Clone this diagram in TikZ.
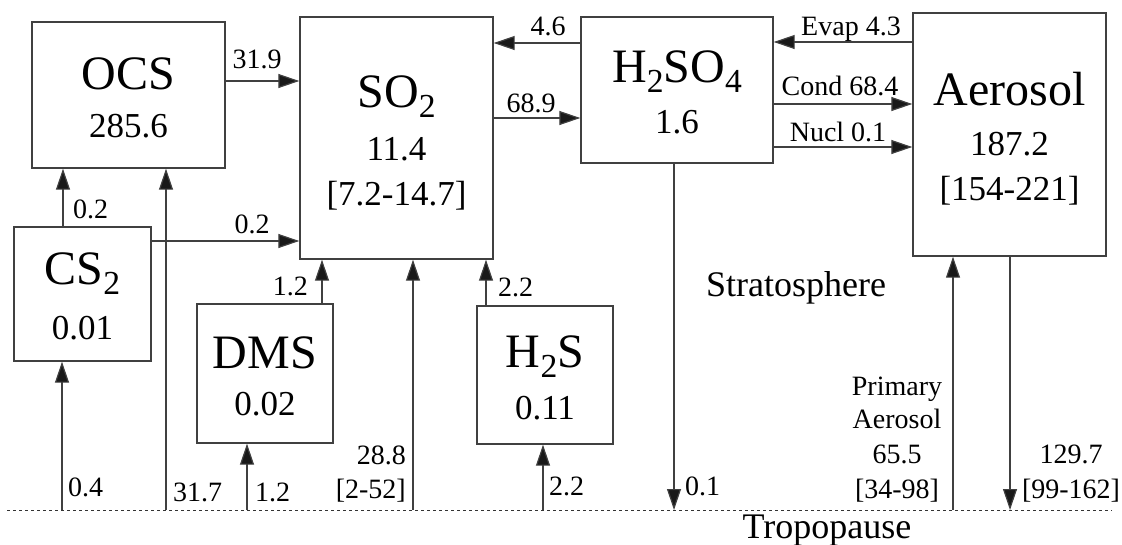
\documentclass[tikz,border=0pt]{standalone}
\usepackage{fontspec}
\setmainfont{Liberation Serif}
\usetikzlibrary{arrows.meta}
\newcommand\chemsub[1]{\raisebox{-0.22em}{\scalebox{0.7}{#1}}}
\newcommand\ftitle{\fontsize{48}{50}\selectfont}
\newcommand\fnum{\fontsize{35}{38}\selectfont}
\newcommand\flab{\fontsize{28}{30}\selectfont}
\newcommand\fbig{\fontsize{36}{38}\selectfont}
\begin{document}
\begin{tikzpicture}[x=1pt,y=-1pt,
  boxnode/.style={draw=black!75,line width=1.4pt,inner sep=0pt,rectangle},
  arr/.style={draw=black!75,line width=1.2pt,-{Triangle[length=21pt,width=14pt,fill=black!90]}},
  trop/.style={draw=black!80,line width=0.9pt,dash pattern=on 3pt off 3pt},
  txt/.style={inner sep=0pt,anchor=base},
  txtw/.style={inner sep=0pt,anchor=base west},
  txte/.style={inner sep=0pt,anchor=base east}]
\useasboundingbox (0,0) rectangle (1122,544);

% boxes
\node[boxnode,minimum width=193pt,minimum height=146pt] (ocs) at (128.5,95) {};
\node[boxnode,minimum width=193pt,minimum height=242pt] (so2) at (396.5,138) {};
\node[boxnode,minimum width=192pt,minimum height=146pt] (h2so4) at (677,90) {};
\node[boxnode,minimum width=193pt,minimum height=243pt] (aer) at (1009.5,134.5) {};
\node[boxnode,minimum width=137pt,minimum height=134pt] (cs2) at (82.5,294) {};
\node[boxnode,minimum width=136pt,minimum height=139pt] (dms) at (265,373.5) {};
\node[boxnode,minimum width=136pt,minimum height=138pt] (h2s) at (545,375) {};

% box texts
\node[txt] (ocsT) at (128.5,89) {\ftitle OCS};
\node[txt] (ocsN) at (128.5,137) {\fnum 285.6};
\node[txt] (so2T) at (396.5,107) {\ftitle SO\chemsub{2}};
\node[txt] (so2N) at (396.5,160) {\fnum 11.4};
\node[txt] (so2R) at (396.5,205) {\fnum [7.2-14.7]};
\node[txt] (h2so4T) at (677,82) {\ftitle H\chemsub{2}SO\chemsub{4}};
\node[txt] (h2so4N) at (677,133) {\fnum 1.6};
\node[txt] (aerT) at (1009.5,105) {\ftitle Aerosol};
\node[txt] (aerN) at (1009.5,155) {\fnum 187.2};
\node[txt] (aerR) at (1009.5,200) {\fnum [154-221]};
\node[txt] (cs2T) at (82.5,284) {\ftitle CS\chemsub{2}};
\node[txt] (cs2N) at (82.5,339) {\fnum 0.01};
\node[txt] (dmsT) at (265,368) {\ftitle DMS};
\node[txt] (dmsN) at (265,415) {\fnum 0.02};
\node[txt] (h2sT) at (545,367) {\ftitle H\chemsub{2}S};
\node[txt] (h2sN) at (545,419) {\fnum 0.11};

% tropopause
\coordinate (tl) at (7,510);
\coordinate (tr) at (1112,510);
\draw[trop] (tl) -- (tr);
\coordinate (t1) at (62,510);
\coordinate (t2) at (166,510);
\coordinate (t3) at (247,510);
\coordinate (t4) at (413,510);
\coordinate (t5) at (543,510);
\coordinate (t6) at (674,510);
\coordinate (t7) at (953,510);
\coordinate (t8) at (1010,510);

% helper levels
\coordinate (xa) at (63,0);
\coordinate (xb) at (322,0);
\coordinate (xc) at (486,0);
\coordinate (ya) at (0,81);
\coordinate (yb) at (0,241);
\coordinate (yc) at (0,43);
\coordinate (yd) at (0,118);
\coordinate (ye) at (0,42);
\coordinate (yf) at (0,104);
\coordinate (yg) at (0,147);

% vertical arrows from tropopause
\draw[arr] (t1) -- (t1 |- cs2.south);
\draw[arr] (t2) -- (t2 |- ocs.south);
\draw[arr] (t3) -- (t3 |- dms.south);
\draw[arr] (t4) -- (t4 |- so2.south);
\draw[arr] (t5) -- (t5 |- h2s.south);
\draw[arr] (t6 |- h2so4.south) -- (t6);
\draw[arr] (t7) -- (t7 |- aer.south);
\draw[arr] (t8 |- aer.south) -- (t8);

% vertical arrows between boxes
\draw[arr] (xa |- cs2.north) -- (xa |- ocs.south);
\draw[arr] (xb |- dms.north) -- (xb |- so2.south);
\draw[arr] (xc |- h2s.north) -- (xc |- so2.south);

% horizontal arrows
\draw[arr] (ocs.east |- ya) -- (so2.west |- ya);
\draw[arr] (cs2.east |- yb) -- (so2.west |- yb);
\draw[arr] (h2so4.west |- yc) -- (so2.east |- yc);
\draw[arr] (so2.east |- yd) -- (h2so4.west |- yd);
\draw[arr] (aer.west |- ye) -- (h2so4.east |- ye);
\draw[arr] (h2so4.east |- yf) -- (aer.west |- yf);
\draw[arr] (h2so4.east |- yg) -- (aer.west |- yg);

% labels
\node[txt] (l1) at (257,68) {\flab 31.9};
\node[txtw] (l2) at (73,218) {\flab 0.2};
\node[txt] (l3) at (252,233) {\flab 0.2};
\node[txt] (l4) at (548,35) {\flab 4.6};
\node[txt] (l5) at (531,112) {\flab 68.9};
\node[txt] (l6) at (851,35) {\flab Evap 4.3};
\node[txt] (l7) at (840,95) {\flab Cond 68.4};
\node[txt] (l8) at (838,141) {\flab Nucl 0.1};
\node[txtw] (l9) at (68,496) {\flab 0.4};
\node[txtw] (l10) at (173,501) {\flab 31.7};
\node[txtw] (l11) at (255,501) {\flab 1.2};
\node[txte] (l12) at (308,295) {\flab 1.2};
\node[txte] (l13) at (406,464) {\flab 28.8};
\node[txte] (l14) at (406,498) {\flab [2-52]};
\node[txtw] (l15) at (498,296) {\flab 2.2};
\node[txtw] (l16) at (549,495) {\flab 2.2};
\node[txtw] (l17) at (685,495) {\flab 0.1};
\node[txt] (l18) at (897,395) {\flab Primary};
\node[txt] (l19) at (897,428) {\flab Aerosol};
\node[txt] (l20) at (897,463) {\flab 65.5};
\node[txt] (l21) at (897,498) {\flab [34-98]};
\node[txt] (l22) at (1071,463) {\flab 129.7};
\node[txt] (l23) at (1071,498) {\flab [99-162]};
\node[txtw] (strat) at (706,296) {\fbig Stratosphere};
\node[txt] (tropo) at (827,538) {\fbig Tropopause};
\end{tikzpicture}
\end{document}
